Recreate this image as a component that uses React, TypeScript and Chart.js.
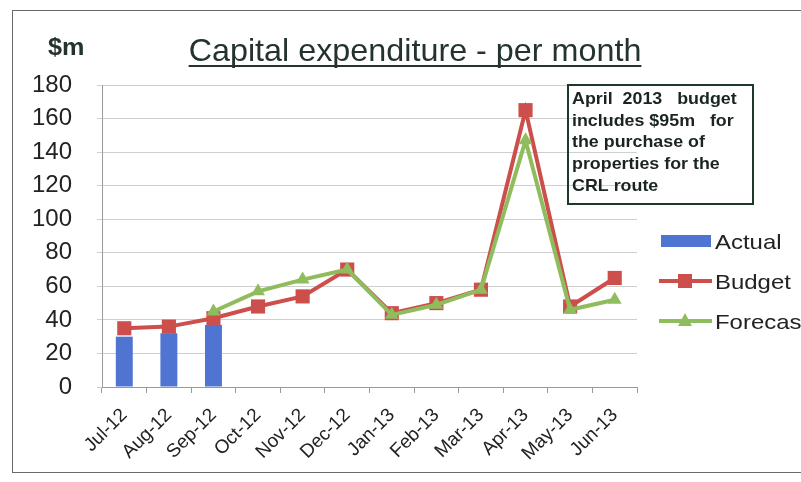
import React, { useEffect, useRef } from "react";
import { Chart, registerables } from "chart.js";

Chart.register(...registerables);

const categories = ["Jul-12", "Aug-12", "Sep-12", "Oct-12", "Nov-12", "Dec-12", "Jan-13", "Feb-13", "Mar-13", "Apr-13", "May-13", "Jun-13"];
const actual = [30, 32, 37, null, null, null, null, null, null, null, null, null];
const budget = [35, 36, 41, 48, 54, 70, 44, 50, 58, 165, 48, 65];
const forecast = [null, null, 45, 57, 64, 70, 43, 49, 58, 147, 46, 52];
const yTicks = [0, 20, 40, 60, 80, 100, 120, 140, 160, 180];

const titleText = "Capital expenditure - per month";
const unitText = "$m";
const noteLines = ["April  2013   budget", "includes $95m   for", "the purchase of", "properties for the", "CRL route"];
const legendLabels = ["Actual", "Budget", "Forecast"];

const BLUE = "#4f74d2";
const RED = "#cc4f4c";
const GREEN = "#8fbc5c";
const INK = "#24332c";

function drawText(ctx: CanvasRenderingContext2D, text: string, x: number, y: number, font: string, sx: number, align: CanvasTextAlign, color: string) {
  ctx.save();
  ctx.font = font;
  ctx.fillStyle = color;
  ctx.textAlign = align;
  ctx.textBaseline = "alphabetic";
  ctx.translate(x, y);
  ctx.scale(sx, 1);
  ctx.fillText(text, 0, 0);
  ctx.restore();
}

const decor = {
  id: "decor",
  beforeDraw(chart: any) {
    const ctx = chart.ctx as CanvasRenderingContext2D;
    ctx.save();
    ctx.fillStyle = "#ffffff";
    ctx.fillRect(0, 0, chart.width, chart.height);
    ctx.restore();
  },
  afterDraw(chart: any) {
    const ctx = chart.ctx as CanvasRenderingContext2D;
    ctx.save();
    // outer frame
    ctx.strokeStyle = "#6a6a6a";
    ctx.lineWidth = 1;
    ctx.strokeRect(12.5, 10.5, 820, 462);

    // title
    const titleFont = "32px Arial, 'Liberation Sans', sans-serif";
    ctx.font = titleFont;
    const tw = ctx.measureText(titleText).width * 1.01;
    const tcx = 415;
    drawText(ctx, titleText, tcx, 61, titleFont, 1.01, "center", INK);
    ctx.fillStyle = INK;
    ctx.fillRect(tcx - tw / 2, 65, tw, 2);

    // unit
    drawText(ctx, unitText, 48, 55, "bold 24px Arial, 'Liberation Sans', sans-serif", 1.05, "left", INK);

    // note box
    ctx.strokeStyle = "#1d3a28";
    ctx.lineWidth = 2;
    ctx.strokeRect(568, 85, 185, 119);
    const nf = "bold 17px Arial, 'Liberation Sans', sans-serif";
    noteLines.forEach((ln, i) => {
      drawText(ctx, ln, 572, 104 + i * 21.7, nf, 1.05, "left", "#1a2420");
    });

    // legend
    const lf = "21px Arial, 'Liberation Sans', sans-serif";
    // Actual
    ctx.fillStyle = BLUE;
    ctx.fillRect(661, 235, 50, 12);
    drawText(ctx, legendLabels[0], 715, 249, lf, 1.14, "left", "#222");
    // Budget
    ctx.strokeStyle = RED;
    ctx.lineWidth = 4;
    ctx.beginPath();
    ctx.moveTo(659, 281);
    ctx.lineTo(712, 281);
    ctx.stroke();
    ctx.fillStyle = RED;
    ctx.fillRect(678, 274, 14, 14);
    drawText(ctx, legendLabels[1], 715, 289, lf, 1.14, "left", "#222");
    // Forecast
    ctx.strokeStyle = GREEN;
    ctx.beginPath();
    ctx.moveTo(659, 321);
    ctx.lineTo(712, 321);
    ctx.stroke();
    ctx.fillStyle = GREEN;
    ctx.beginPath();
    ctx.moveTo(685, 313);
    ctx.lineTo(692, 326);
    ctx.lineTo(678, 326);
    ctx.closePath();
    ctx.fill();
    drawText(ctx, legendLabels[2], 715, 329, lf, 1.14, "left", "#222");
    ctx.restore();
  },
};

export default function App() {
  const ref = useRef<HTMLCanvasElement | null>(null);
  useEffect(() => {
    if (!ref.current) return;
    const chart = new Chart(ref.current, {
      type: "bar",
      data: {
        labels: categories,
        datasets: [
          {
            type: "bar",
            label: legendLabels[0],
            data: actual,
            backgroundColor: BLUE,
            barPercentage: 0.38,
            categoryPercentage: 1,
            order: 3,
          } as any,
          {
            type: "line",
            label: legendLabels[1],
            data: budget,
            borderColor: RED,
            backgroundColor: RED,
            borderWidth: 4,
            pointStyle: "rect",
            pointRadius: 10,
            pointBorderWidth: 0,
            pointBackgroundColor: RED,
            tension: 0,
            order: 2,
          } as any,
          {
            type: "line",
            label: legendLabels[2],
            data: forecast,
            borderColor: GREEN,
            backgroundColor: GREEN,
            borderWidth: 4,
            pointStyle: "triangle",
            pointRadius: 8,
            pointBorderWidth: 0,
            pointBackgroundColor: GREEN,
            tension: 0,
            order: 1,
          } as any,
        ],
      },
      options: {
        responsive: false,
        animation: false,
        layout: { padding: { left: 0, top: 85, right: 164, bottom: 0 } },
        plugins: { legend: { display: false }, tooltip: { enabled: false }, title: { display: false } },
        scales: {
          x: {
            offset: true,
            grid: { display: true, drawOnChartArea: false, tickLength: 6, color: "#9a9a9a", offset: true },
            border: { display: true, color: "#9a9a9a" },
            ticks: {
              maxRotation: 45,
              minRotation: 45,
              autoSkip: false,
              padding: 11,
              color: "#222",
              font: { family: "Arial, 'Liberation Sans', sans-serif", size: 19 },
            },
            afterFit: (s: any) => {
              s.height = 95;
            },
          },
          y: {
            min: 0,
            max: 180,
            afterBuildTicks: (s: any) => {
              s.ticks = yTicks.map((v) => ({ value: v }));
            },
            grid: { color: "#cfcfcf", tickLength: 5 },
            border: { display: true, color: "#9a9a9a" },
            ticks: {
              padding: 25,
              color: "#222",
              font: { family: "Arial, 'Liberation Sans', sans-serif", size: 24 },
            },
            afterFit: (s: any) => {
              s.width = 102;
            },
          },
        },
      },
      plugins: [decor],
    });
    return () => chart.destroy();
  }, []);
  return (
    <div style={{ position: "fixed", left: 0, top: 0, width: 801, height: 482 }}>
      <canvas ref={ref} width={801} height={482} style={{ display: "block", width: 801, height: 482 }} />
    </div>
  );
}
